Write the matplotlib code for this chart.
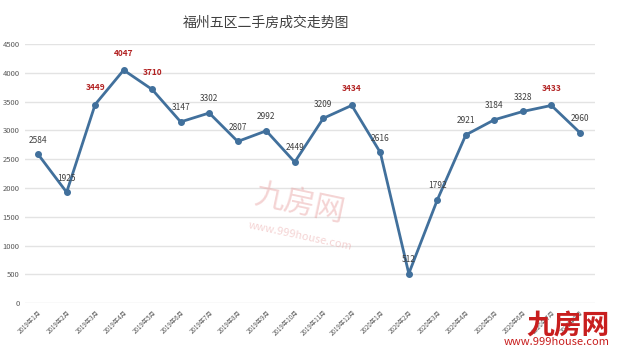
import matplotlib.pyplot as plt
import numpy as np

plt.rcParams['font.family'] = ['Noto Sans CJK SC', 'DejaVu Sans']

months = ['2019年1月', '2019年2月', '2019年3月', '2019年4月', '2019年5月', '2019年6月',
          '2019年7月', '2019年8月', '2019年9月', '2019年10月', '2019年11月', '2019年12月',
          '2020年1月', '2020年2月', '2020年3月', '2020年4月', '2020年5月', '2020年6月',
          '2020年7月', '2020年8月']
deals = [2584, 1925, 3449, 4047, 3710, 3147, 3302, 2807, 2992, 2449, 3209, 3434,
         2616, 512, 1792, 2921, 3184, 3328, 3433, 2960]
highlight = [3449, 4047, 3710, 3434, 3433]
y_ticks = [0, 500, 1000, 1500, 2000, 2500, 3000, 3500, 4000, 4500]

fig = plt.figure(figsize=(6.25, 3.52), dpi=100)
ax = fig.add_axes([0.04, 0.139, 0.912, 0.736])

x = np.arange(len(months))
ax.plot(x, deals, color='#41709c', lw=2, marker='o', ms=4, zorder=3)

for xi, v in zip(x, deals):
    if v in highlight:
        ax.annotate(str(v), (xi, v), xytext=(0, 9), textcoords='offset points',
                    ha='center', va='bottom', fontsize=6, color='#b22222', fontweight='bold')
    else:
        ax.annotate(str(v), (xi, v), xytext=(0, 7), textcoords='offset points',
                    ha='center', va='bottom', fontsize=6, color='#404040')

ax.set_xlim(-0.46, 19.53)
ax.set_ylim(0, 4500)
ax.set_yticks(y_ticks)
ax.set_yticklabels([str(t) for t in y_ticks], fontsize=5.5, color='#595959')
ax.set_xticks(x)
ax.set_xticklabels(months, rotation=45, ha='right', rotation_mode='anchor',
                   fontsize=4.5, color='#595959')
ax.tick_params(length=0, pad=4)
ax.grid(axis='y', color='#e3e3e3', lw=1)
ax.set_axisbelow(True)
for s in ax.spines.values():
    s.set_visible(False)

fig.text(0.425, 0.935, '福州五区二手房成交走势图', ha='center', va='center',
         fontsize=10, color='#404040')

# watermarks
fig.text(0.48, 0.42, '九房网', ha='center', va='center', fontsize=22,
         color='#e8a0a0', alpha=0.45, rotation=-12, zorder=0)
fig.text(0.48, 0.33, 'www.999house.com', ha='center', va='center', fontsize=8,
         color='#e8a0a0', alpha=0.45, rotation=-12, zorder=0)
fig.text(0.975, 0.075, '九房网', ha='right', va='center', fontsize=20,
         color='#c81e1e', fontweight='bold')
fig.text(0.975, 0.015, 'www.999house.com', ha='right', va='bottom', fontsize=8,
         color='#c81e1e')

fig.savefig('out.png', dpi=100)
